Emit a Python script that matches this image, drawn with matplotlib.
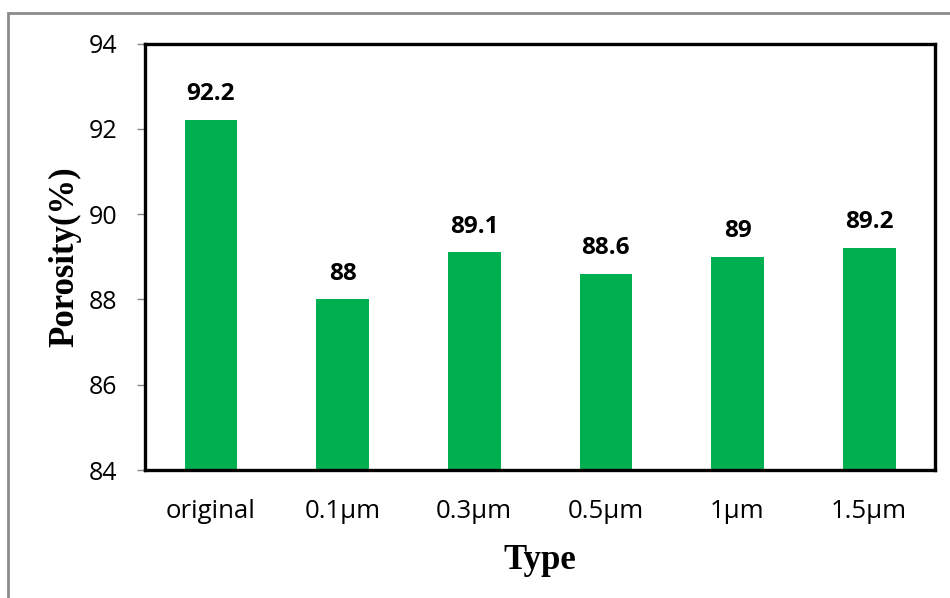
import matplotlib
matplotlib.use("Agg")
import matplotlib.pyplot as plt
from matplotlib.patches import Rectangle

categories = ["original", "0.1µm", "0.3µm", "0.5µm", "1µm", "1.5µm"]
porosity = [92.2, 88, 89.1, 88.6, 89, 89.2]
value_labels = ["92.2", "88", "89.1", "88.6", "89", "89.2"]
y_ticks = [84, 86, 88, 90, 92, 94]

W, H = 950, 598
fig = plt.figure(figsize=(W / 100, H / 100), dpi=100)
fig.patch.set_facecolor("white")

# outer frame of the chart area
fig.add_artist(Rectangle((8 / W, -0.05), 1.2, 1 - 13 / H + 0.05,
                         transform=fig.transFigure, fill=False,
                         edgecolor="#8c8c8c", linewidth=2.0))

ax = fig.add_axes([145 / W, 1 - 470 / H, (935 - 145) / W, (470 - 43.5) / H])
x = range(len(categories))
ax.bar(x, [v - 84 for v in porosity], bottom=84, width=0.4, color="#00B050")
ax.set_xlim(-0.5, len(categories) - 0.5)
ax.set_ylim(84, 94)
ax.set_yticks(y_ticks)
ax.set_yticklabels([str(t) for t in y_ticks], fontfamily="Open Sans", fontsize=18)
ax.set_xticks(list(x))
ax.set_xticklabels(categories, fontfamily="Open Sans", fontsize=18.5)
ax.tick_params(axis="y", direction="out", length=6, width=1, color="#888888", pad=14)
ax.tick_params(axis="x", length=0, pad=21)

for s in ax.spines.values():
    s.set_linewidth(2.4)
    s.set_color("black")

for xi, v, lab in zip(x, porosity, value_labels):
    ax.annotate(lab, (xi, v), xytext=(0, 10), textcoords="offset points",
                ha="center", va="bottom", fontfamily="Open Sans",
                fontweight="bold", fontsize=17.5)

ax.set_xlabel("Type", fontfamily="Liberation Serif", fontweight="bold",
              fontsize=25, labelpad=14)
ax.set_ylabel("Porosity(%)", fontfamily="Liberation Serif", fontweight="bold",
              fontsize=25, labelpad=5)

fig.savefig("out.png", dpi=100)
